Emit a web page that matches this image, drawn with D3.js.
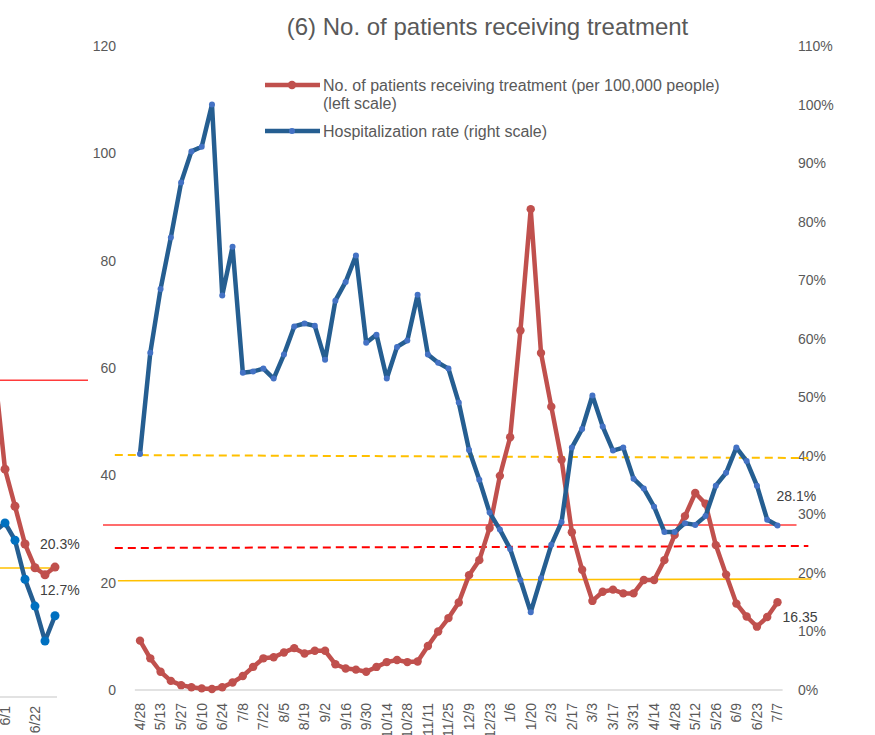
<!DOCTYPE html>
<html>
<head>
<meta charset="utf-8">
<script src="https://cdn.jsdelivr.net/npm/d3@7"></script>
<style>
  html, body { margin: 0; padding: 0; background: #ffffff; }
  svg { display: block; }
  text { font-family: 'Liberation Sans', Arial, sans-serif; }
</style>
</head>
<body>
<svg id="chart" width="875" height="735"></svg>
<script>
// ---------------- DATA ----------------
const title = "(6) No. of patients receiving treatment";
const legendRed = ["No. of patients receiving treatment (per 100,000 people)", "(left scale)"];
const legendBlue = "Hospitalization rate (right scale)";

// x tick labels (every second weekly point)
const tickLabels = ["4/28","5/13","5/27","6/10","6/24","7/8","7/22","8/5","8/19","9/2","9/16","9/30",
  "10/14","10/28","11/11","11/25","12/9","12/23","1/6","1/20","2/3","2/17","3/3","3/17","3/31",
  "4/14","4/28","5/12","5/26","6/9","6/23","7/7"];

// No. of patients receiving treatment per 100,000 (left scale), weekly
const patients = [9.2,5.9,3.4,1.7,0.9,0.5,0.3,0.2,0.5,1.4,2.6,4.3,5.9,6.1,7.0,7.8,6.8,7.3,7.3,4.8,
  4.0,3.8,3.4,4.3,5.2,5.6,5.2,5.3,8.2,10.9,13.4,16.3,21.4,24.2,30.2,39.9,47.1,67.0,89.6,62.8,
  52.8,42.9,29.4,22.4,16.6,18.3,18.7,18.0,18.0,20.5,20.5,24.2,28.9,32.4,36.7,34.7,27.0,21.5,
  16.1,13.7,11.8,13.6,16.35];

// Hospitalization rate (right scale), weekly
const hospRate = [0.403,0.576,0.685,0.773,0.867,0.920,0.928,1.000,0.674,0.757,0.542,0.544,0.549,
  0.532,0.573,0.621,0.626,0.622,0.564,0.665,0.697,0.742,0.593,0.607,0.532,0.586,0.597,0.675,
  0.573,0.559,0.549,0.491,0.410,0.359,0.303,0.274,0.241,0.188,0.133,0.191,0.248,0.287,0.414,
  0.446,0.503,0.450,0.409,0.414,0.361,0.344,0.313,0.270,0.270,0.285,0.282,0.297,0.349,0.371,
  0.414,0.391,0.349,0.291,0.281];

const leftTicks = [0,20,40,60,80,100,120];
const rightTicks = [0,0.1,0.2,0.3,0.4,0.5,0.6,0.7,0.8,0.9,1.0,1.1];

// reference lines: [x0 index, x1 index, left-scale value at start, at end]
const refLines = [
  {x0:-3.6, x1:63.85, v0:30.75, v1:30.75, color:"#FF3B3B", dash:null, w:1.6},
  {x0:-2.45, x1:65.0, v0:26.46, v1:26.83, color:"#FF0000", dash:"8,5", w:2},
  {x0:-2.45, x1:65.0, v0:43.79, v1:43.23, color:"#FFC000", dash:"8,5", w:2},
  {x0:-2.15, x1:65.3, v0:20.37, v1:20.68, color:"#FFC000", dash:null, w:1.6}
];
const lastRateLabel = "28.1%";
const lastPatientsLabel = "16.35";

// partial neighbouring chart (cut off at left edge)
const partDates = ["5/25","6/1","6/8","6/15","6/22","6/29","7/6"];
const partShown = [1, 4];
const partRed = [0.503,0.356,0.298,0.239,0.202,0.191,0.203];
const partBlue = [0.259,0.272,0.245,0.184,0.142,0.0875,0.127];
const partRedLine = 0.495;
const partYellowLine = 0.2016;
const partLabels = ["20.3%","12.7%"];

// ---------------- DRAW ----------------
const svg = d3.select("#chart");
const grey = "#595959";
const redC = "#C0504D", blueC = "#255E91", blueDot = "#4472C4";

// main scales
const x = d3.scaleLinear().domain([0, patients.length - 1]).range([140, 777.5]);
const yL = d3.scaleLinear().domain([0, 120]).range([690, 46]);
const yR = d3.scaleLinear().domain([0, 1.1]).range([690, 46]);

// title
svg.append("text").attr("x", 487.5).attr("y", 35).attr("text-anchor", "middle")
  .attr("font-size", 24).attr("fill", grey).text(title);

// left axis
const gL = svg.append("g").attr("transform", "translate(116,0)")
  .call(d3.axisLeft(yL).tickValues(leftTicks).tickSize(0).tickPadding(0));
gL.select(".domain").remove();
gL.selectAll("text").attr("font-size", 14).attr("fill", grey).attr("font-family", "'Liberation Sans', Arial, sans-serif");

// right axis
const gR = svg.append("g").attr("transform", "translate(798,0)")
  .call(d3.axisRight(yR).tickValues(rightTicks).tickSize(0).tickPadding(0).tickFormat(d3.format(".0%")));
gR.select(".domain").remove();
gR.selectAll("text").attr("font-size", 14).attr("fill", grey).attr("font-family", "'Liberation Sans', Arial, sans-serif");

// x axis line
svg.append("line").attr("x1", x(-0.5)).attr("x2", x(patients.length - 0.5))
  .attr("y1", yL(0)).attr("y2", yL(0)).attr("stroke", "#D9D9D9").attr("stroke-width", 1.5);

// x tick labels
svg.append("g").selectAll("text").data(tickLabels).join("text")
  .attr("transform", (d, i) => `translate(${x(i * 2)},${yL(0) + 13}) rotate(-90)`)
  .attr("text-anchor", "end").attr("dy", "0.35em")
  .attr("font-size", 14).attr("fill", grey).text(d => d);

// reference lines
svg.append("g").selectAll("line").data(refLines).join("line")
  .attr("x1", d => x(d.x0)).attr("x2", d => x(d.x1))
  .attr("y1", d => yL(d.v0)).attr("y2", d => yL(d.v1))
  .attr("stroke", d => d.color).attr("stroke-width", d => d.w)
  .attr("stroke-dasharray", d => d.dash);

// series
const lineL = d3.line().x((d, i) => x(i)).y(d => yL(d));
const lineR = d3.line().x((d, i) => x(i)).y(d => yR(d));
svg.append("path").datum(patients).attr("d", lineL).attr("fill", "none")
  .attr("stroke", redC).attr("stroke-width", 4.5).attr("stroke-linejoin", "round");
svg.append("g").selectAll("circle").data(patients).join("circle")
  .attr("cx", (d, i) => x(i)).attr("cy", d => yL(d)).attr("r", 4.2).attr("fill", redC);

svg.append("path").datum(hospRate).attr("d", lineR).attr("fill", "none")
  .attr("stroke", blueC).attr("stroke-width", 4.5).attr("stroke-linejoin", "round");
svg.append("g").selectAll("circle").data(hospRate).join("circle")
  .attr("cx", (d, i) => x(i)).attr("cy", d => yR(d)).attr("r", 3).attr("fill", blueDot);

// data labels
const nLast = patients.length - 1;
svg.append("text").attr("x", x(nLast) - 1).attr("y", yR(hospRate[nLast]) - 29).attr("dy", "0.35em")
  .attr("font-size", 14).attr("fill", "#404040").text(lastRateLabel);
svg.append("text").attr("x", x(nLast) + 5).attr("y", yL(patients[nLast]) + 15).attr("dy", "0.35em")
  .attr("font-size", 14).attr("fill", "#404040").text(lastPatientsLabel);

// legend
const lg = svg.append("g");
lg.append("line").attr("x1", 265).attr("x2", 320).attr("y1", 85).attr("y2", 85)
  .attr("stroke", redC).attr("stroke-width", 4.5);
lg.append("circle").attr("cx", 292).attr("cy", 85).attr("r", 4.2).attr("fill", redC);
lg.append("text").attr("x", 323).attr("y", 85).attr("dy", "0.35em").attr("font-size", 16)
  .attr("fill", grey).text(legendRed[0]);
lg.append("text").attr("x", 323).attr("y", 103).attr("dy", "0.35em").attr("font-size", 16)
  .attr("fill", grey).text(legendRed[1]);
lg.append("line").attr("x1", 265).attr("x2", 320).attr("y1", 131).attr("y2", 131)
  .attr("stroke", blueC).attr("stroke-width", 4.5);
lg.append("circle").attr("cx", 292).attr("cy", 131).attr("r", 3).attr("fill", blueDot);
lg.append("text").attr("x", 323).attr("y", 131).attr("dy", "0.35em").attr("font-size", 16)
  .attr("fill", grey).text(legendBlue);

// ---- partial neighbouring chart at the left edge ----
const px = d3.scaleLinear().domain([0, partDates.length - 1]).range([-5, 55]);
const py = d3.scaleLinear().domain([0, 1]).range([697, 57]);
const pg = svg.append("g");
pg.append("line").attr("x1", px(-1)).attr("x2", px(9.3)).attr("y1", py(partRedLine)).attr("y2", py(partRedLine))
  .attr("stroke", "#FF3B3B").attr("stroke-width", 1.6);
pg.append("line").attr("x1", px(0)).attr("x2", px(6.2)).attr("y1", py(partYellowLine)).attr("y2", py(partYellowLine))
  .attr("stroke", "#FFC000").attr("stroke-width", 1.6);
pg.append("line").attr("x1", px(-1)).attr("x2", px(6.2)).attr("y1", py(0)).attr("y2", py(0))
  .attr("stroke", "#D9D9D9").attr("stroke-width", 1.5);
const pl = d3.line().x((d, i) => px(i)).y(d => py(d));
pg.append("path").datum(partRed).attr("d", pl).attr("fill", "none").attr("stroke", redC)
  .attr("stroke-width", 4.5).attr("stroke-linejoin", "round");
pg.selectAll(".pr").data(partRed).join("circle").attr("class", "pr")
  .attr("cx", (d, i) => px(i)).attr("cy", d => py(d)).attr("r", 4.5).attr("fill", redC);
pg.append("path").datum(partBlue).attr("d", pl).attr("fill", "none").attr("stroke", blueC)
  .attr("stroke-width", 4.5).attr("stroke-linejoin", "round");
pg.selectAll(".pb").data(partBlue).join("circle").attr("class", "pb")
  .attr("cx", (d, i) => px(i)).attr("cy", d => py(d)).attr("r", 4.5).attr("fill", "#0070C0");
pg.selectAll(".pxl").data(partShown).join("text").attr("class", "pxl")
  .attr("transform", d => `translate(${px(d)},${py(0) + 9}) rotate(-90)`)
  .attr("text-anchor", "end").attr("dy", "0.35em").attr("font-size", 14).attr("fill", grey)
  .text(d => partDates[d]);
const nP = partRed.length - 1;
pg.append("text").attr("x", 40).attr("y", py(partRed[nP]) - 23).attr("dy", "0.35em")
  .attr("font-size", 14).attr("fill", "#404040").text(partLabels[0]);
pg.append("text").attr("x", 40).attr("y", py(partBlue[nP]) - 26).attr("dy", "0.35em")
  .attr("font-size", 14).attr("fill", "#404040").text(partLabels[1]);
</script>
</body>
</html>
